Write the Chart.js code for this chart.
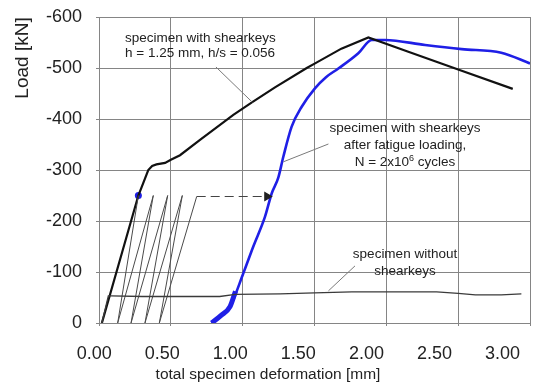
<!DOCTYPE html>
<html><head><meta charset="utf-8">
<script src="https://cdn.jsdelivr.net/npm/chart.js@4.4.0/dist/chart.umd.min.js"></script>
<style>html,body{margin:0;padding:0;background:#fff}</style>
</head><body>
<canvas id="c" width="550" height="387"></canvas>
<script>
// ---- data ----
const xTickValues = [0, 0.5, 1, 1.5, 2, 2.5, 3];
const yTickValues = [-600, -500, -400, -300, -200, -100, 0];

// specimen with shearkeys (static)
const shearX = [0.02, 0.274, 0.343, 0.37, 0.40, 0.46, 0.50, 0.564, 0.703, 0.935, 1.067, 1.225, 1.446, 1.504, 1.687, 1.875, 2.153, 2.50, 2.88];
const shearY = [0, -250, -300, -308, -311, -314, -320, -329, -359, -408, -433, -462, -500, -509, -538, -560, -532, -497, -459];

// specimen with shearkeys after fatigue loading
const fatigueX = [0.784, 0.85, 0.912, 1.004, 1.074, 1.155, 1.202, 1.248, 1.283, 1.341, 1.411, 1.503, 1.58, 1.666, 1.805, 1.898, 1.99, 2.27, 2.525, 2.80, 3.0];
const fatigueY = [0, -15, -32, -97, -150, -208, -254, -285, -326, -385, -424, -460, -482, -499, -529, -555, -555, -545, -537, -530, -509];

// hysteresis band at start of the fatigue curve
const loopX = [0.784, 0.85, 0.912, 0.95];
const loopY = [0, -15, -32, -62];

// fatigue load cycles (saw-tooth)
const cycleX = [0.274, 0.130, 0.378, 0.223, 0.478, 0.320, 0.580, 0.420, 0.680];
const cycleY = [-250, 0, -250, 0, -250, 0, -250, 0, -248];

// dashed transfer arrow
const transferX = [0.68, 1.17];
const transferY = [-248, -248];

// specimen without shearkeys
const noKeyX = [0.02, 0.065, 0.083, 0.3, 0.6, 0.84, 0.95, 1.26, 1.5, 1.76, 2.35, 2.5, 2.62, 2.8, 2.94];
const noKeyY = [0, -53, -53, -52, -52, -52, -56, -57, -59, -61, -61, -58, -55, -55, -57];

// start-of-fatigue marker
const markerX = [0.274];
const markerY = [-250];

// ---- helpers ----
const zip = (xs, ys) => xs.map((v, i) => ({x: v, y: ys[i]}));
const FAMILY = '"Liberation Sans", Arial, Helvetica, sans-serif';
const GRID = '#858585';
const TEXT = '#222';
const BLUE = '#1f1fe6';

const notes = {
  leaders: [
    [0.814, -502, 1.067, -433],
    [1.597, -351, 1.283, -316],
    [1.782, -112, 1.597, -63]
  ]
};

const notePlugin = {
  id: 'notes',
  afterDatasetsDraw(chart) {
    const {ctx, scales} = chart;
    const x = scales.x, y = scales.y;
    const px = v => x.getPixelForValue(v), py = v => y.getPixelForValue(v);
    ctx.save();
    ctx.strokeStyle = '#7a7a7a';
    ctx.lineWidth = 1;
    for (const l of notes.leaders) {
      ctx.beginPath();
      ctx.moveTo(px(l[0]), py(l[1]));
      ctx.lineTo(px(l[2]), py(l[3]));
      ctx.stroke();
    }
    ctx.fillStyle = TEXT;
    ctx.textBaseline = 'middle';
    ctx.font = '13.5px ' + FAMILY;
    // note 1
    ctx.textAlign = 'left';
    ctx.fillText('specimen with shearkeys', px(0.181), py(-559));
    ctx.fillText('h = 1.25 mm, h/s = 0.056', px(0.181), py(-529));
    // note 2
    ctx.textAlign = 'center';
    ctx.fillText('specimen with shearkeys', px(2.13), py(-382));
    ctx.fillText('after fatigue loading,', px(2.13), py(-348));
    // line with superscript
    const a = 'N = 2x10', s = '6', b = ' cycles';
    ctx.textAlign = 'left';
    const wa = ctx.measureText(a).width, wb = ctx.measureText(b).width;
    ctx.font = '9px ' + FAMILY;
    const ws = ctx.measureText(s).width;
    const total = wa + ws + wb;
    let sx = px(2.13) - total / 2;
    const ly = py(-315);
    ctx.font = '13.5px ' + FAMILY;
    ctx.fillText(a, sx, ly);
    ctx.font = '9px ' + FAMILY;
    ctx.fillText(s, sx + wa, ly - 4);
    ctx.font = '13.5px ' + FAMILY;
    ctx.fillText(b, sx + wa + ws, ly);
    // note 3
    ctx.textAlign = 'center';
    ctx.fillText('specimen without', px(2.13), py(-135));
    ctx.fillText('shearkeys', px(2.13), py(-102));
    ctx.restore();
  },
  afterDraw(chart) {
    const {ctx} = chart;
    ctx.save();
    ctx.fillStyle = TEXT;
    ctx.textBaseline = 'middle';
    ctx.textAlign = 'center';
    ctx.font = '15.5px ' + FAMILY;
    ctx.fillText('total specimen deformation [mm]', 268, 375);
    ctx.translate(23, 58);
    ctx.rotate(-Math.PI / 2);
    ctx.font = '19px ' + FAMILY;
    ctx.fillText('Load [kN]', 0, 0);
    ctx.restore();
  }
};

const lineDs = (data, color, width, extra) => Object.assign({
  data, borderColor: color, backgroundColor: color, borderWidth: width,
  pointRadius: 0, fill: false, tension: 0, xAxisID: 'x', yAxisID: 'y'
}, extra || {});

new Chart(document.getElementById('c'), {
  type: 'line',
  data: {
    datasets: [
      lineDs(zip(noKeyX, noKeyY), '#3a3a3a', 1.3),
      lineDs(zip(cycleX, cycleY), '#4a4a4a', 1),
      lineDs(zip(transferX, transferY), '#444', 1.2, {
        borderDash: [9, 5],
        pointRadius: [0, 4.5], pointStyle: 'triangle', pointRotation: 90,
        pointBackgroundColor: '#222', pointBorderColor: '#222'
      }),
      lineDs(zip(shearX, shearY), '#111', 2.2),
      lineDs(zip(loopX, loopY), BLUE, 5, {cubicInterpolationMode: 'monotone'}),
      lineDs(zip(fatigueX, fatigueY), BLUE, 2.6, {cubicInterpolationMode: 'monotone'}),
      lineDs(zip(markerX, markerY), BLUE, 0, {pointRadius: 3.5, pointBackgroundColor: BLUE, pointBorderColor: BLUE, showLine: false})
    ]
  },
  options: {
    responsive: false,
    animation: false,
    devicePixelRatio: 1,
    layout: {padding: {top: 17, right: 20, bottom: 0, left: 0}},
    plugins: {legend: {display: false}, tooltip: {enabled: false}},
    scales: {
      x: {
        type: 'linear', position: 'bottom', min: 0, max: 3,
        afterBuildTicks: a => { a.ticks = xTickValues.map(v => ({value: v})); },
        ticks: {display: false},
        grid: {color: GRID, lineWidth: 1, drawTicks: true, tickLength: 3},
        border: {color: GRID, width: 1},
        afterFit: s => { s.height = 3; s.paddingLeft = 0; s.paddingRight = 0; }
      },
      xLab: {
        type: 'linear', position: 'bottom', min: 0.0353, max: 3.202,
        afterBuildTicks: a => { a.ticks = xTickValues.map(v => ({value: v})); },
        grid: {display: false}, border: {display: false},
        ticks: {font: {size: 18, family: FAMILY}, color: TEXT, padding: 9, maxRotation: 0, autoSkip: false,
          callback: v => Number(v).toFixed(2)},
        afterFit: s => { s.height = 61; s.paddingLeft = 0; s.paddingRight = 0; }
      },
      y: {
        type: 'linear', min: -600, max: 0, reverse: true,
        afterBuildTicks: a => { a.ticks = yTickValues.map(v => ({value: v})); },
        ticks: {font: {size: 18, family: FAMILY}, color: TEXT, padding: 14},
        grid: {color: GRID, lineWidth: 1, drawTicks: true, tickLength: 3},
        border: {color: GRID, width: 1},
        afterFit: s => { s.width = 99; s.paddingTop = 0; s.paddingBottom = 0; }
      }
    }
  },
  plugins: [notePlugin]
});
</script>
</body></html>
